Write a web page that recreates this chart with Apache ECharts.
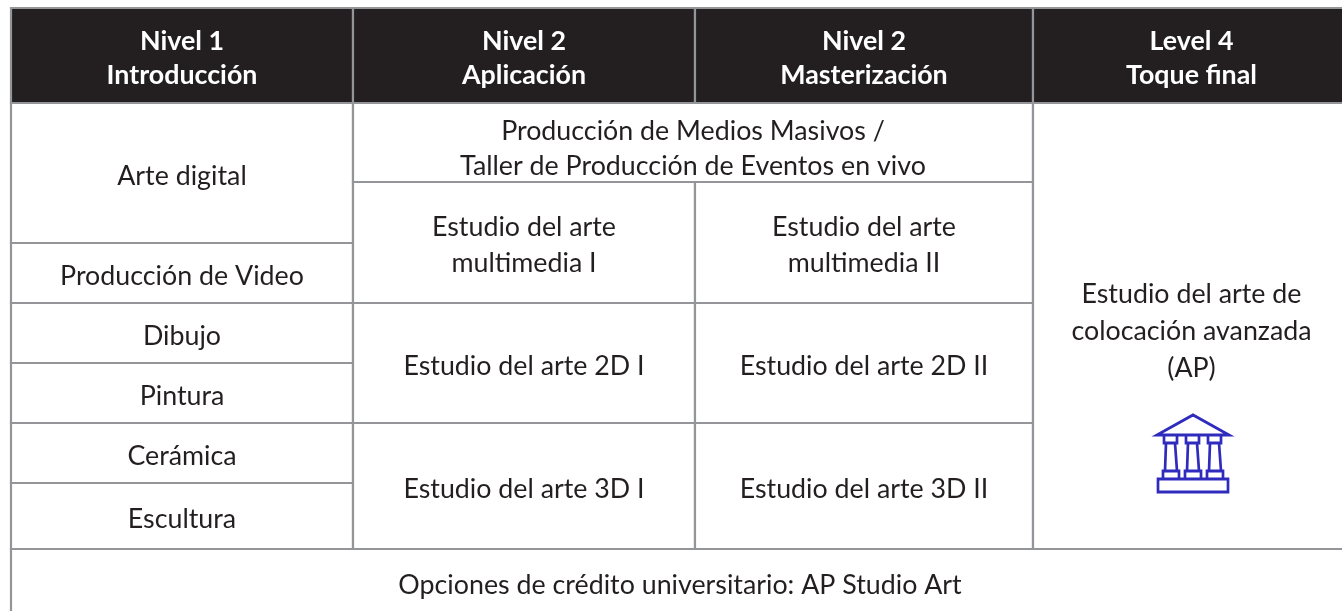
<!DOCTYPE html>
<html><head><meta charset="utf-8">
<style>html,body{margin:0;padding:0;background:#fff}#c{width:1342px;height:611px}</style>
<script src="https://cdn.jsdelivr.net/npm/echarts@6/dist/echarts.min.js"></script>
</head><body><div id="c"></div>
<script>
// Table grid on the axes
const colEdges = [11, 353, 695, 1033, 1352];
const rowEdges = [8, 103, 182, 243, 303, 363, 423, 483, 549, 625];
// Cells: text, column span [from,to], row span [from,to]
const headerTexts = ['Nivel 1\nIntroducción', 'Nivel 2\nAplicación', 'Nivel 2\nMasterización', 'Level 4\nToque final'];
const bodyTexts = [
  'Arte digital',
  'Producción de Video',
  'Dibujo',
  'Pintura',
  'Cerámica',
  'Escultura',
  'Producción de Medios Masivos /\nTaller de Producción de Eventos en vivo',
  'Estudio del arte\nmultimedia I',
  'Estudio del arte\nmultimedia II',
  'Estudio del arte 2D I',
  'Estudio del arte 2D II',
  'Estudio del arte 3D I',
  'Estudio del arte 3D II',
  'Estudio del arte de\ncolocación avanzada\n(AP)',
  'Opciones de crédito universitario: AP Studio Art'
];
const bodyCols = [[0,1],[0,1],[0,1],[0,1],[0,1],[0,1],[1,3],[1,2],[2,3],[1,2],[2,3],[1,2],[2,3],[3,4],[0,4]];
const bodyRows = [[1,3],[3,4],[4,5],[5,6],[6,7],[7,8],[1,2],[2,4],[2,4],[4,6],[4,6],[6,8],[6,8],[1,8],[8,9]];
const bodyNudge = [3,3,3,3,3,3,6,3,3,3,3,3,3,5,-2];
const bodyShift = [0,0,0,0,0,0,0,0,0,0,0,0,0,-1,-1.5];
const bodyLineHeight = [36,36,36,36,36,36,35,36,36,36,36,36,36,37,36];
const iconPoint = [[1193, 453.5]];

const iconPath = 'path://M0 20L36 0L72 20Z M1 64H71V77H1Z' +
  [0,22,44].map(d => `M${7+d} 20H${20+d}V28H${7+d}Z M${9+d} 28L${8+d} 56H${20+d}L${18+d} 28Z M${6+d} 56H${22+d}V64H${6+d}Z`).join(' ');

const LINE = '#939598', INK = '#231f20';
const FONT = 'Lato';

const headerData = headerTexts.map((t,i) => [i]);
const bodyData = bodyTexts.map((t,i) => [i]);

function cell(api, cols, rows, fill, text, color, font, lh, nudge, shift) {
  const p0 = api.coord([colEdges[cols[0]], rowEdges[rows[0]]]);
  const p1 = api.coord([colEdges[cols[1]], rowEdges[rows[1]]]);
  const x = p0[0], y = p0[1], w = p1[0]-p0[0], h = p1[1]-p0[1];
  return { type:'group', children:[
    { type:'rect', shape:{x,y,width:w,height:h}, style:{fill, stroke:LINE, lineWidth:2.2} },
    { type:'text', style:{ text, x:x+w/2+shift, y:y+h/2+nudge, align:'center', verticalAlign:'middle',
      fill:color, font, lineHeight:lh, textAlign:'center', textVerticalAlign:'middle' } }
  ]};
}

const chart = echarts.init(document.getElementById('c'), null, {renderer:'canvas'});
chart.setOption({
  animation:false,
  backgroundColor:'#fff',
  grid:{left:0,right:0,top:0,bottom:0},
  xAxis:{type:'value',min:0,max:1342,show:false},
  yAxis:{type:'value',min:0,max:611,inverse:true,show:false},
  series:[
    { type:'custom', data:bodyData, clip:false, silent:true, encode:{x:0},
      renderItem:(p,api)=>{ const i=api.value(0);
        return cell(api, bodyCols[i], bodyRows[i], '#fff', bodyTexts[i], INK, `400 26.8px ${FONT}`, bodyLineHeight[i], bodyNudge[i], bodyShift[i]); } },
    { type:'custom', data:headerData, clip:false, silent:true, encode:{x:0},
      renderItem:(p,api)=>{ const i=api.value(0);
        return cell(api, [i,i+1], [0,1], INK, headerTexts[i], '#fff', `700 26.8px ${FONT}`, 34, 3, i===3?-1:0); } },
    { type:'scatter', data:iconPoint, symbol:iconPath, symbolSize:[72,77], silent:true,
      itemStyle:{color:'rgba(0,0,0,0)', borderColor:'#2e2bbd', borderWidth:2.8, opacity:1} }
  ]
});
</script></body></html>
